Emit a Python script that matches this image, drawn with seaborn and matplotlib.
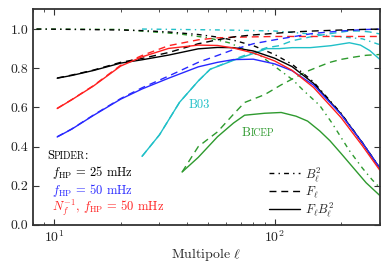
import numpy as np
import pandas as pd
import matplotlib
matplotlib.use("Agg")
import matplotlib.pyplot as plt
import seaborn as sns
from matplotlib.lines import Line2D
from matplotlib.offsetbox import TextArea, HPacker, AnnotationBbox

# ---------------- data ----------------
ell_spider = [10.3, 12, 15, 20, 25, 33, 45, 55, 65, 80, 100, 120, 150, 200, 250, 300]
spider25_F = [0.75, 0.765, 0.79, 0.83, 0.85, 0.88, 0.925, 0.945, 0.96, 0.97, 0.978, 0.985, 0.99, 0.995, 0.998, 1.0]
spider25_FB = [0.749, 0.763, 0.788, 0.826, 0.843, 0.867, 0.899, 0.906, 0.905, 0.888, 0.851, 0.808, 0.723, 0.567, 0.419, 0.29]
spider50_F = [0.45, 0.49, 0.56, 0.645, 0.70, 0.76, 0.83, 0.865, 0.895, 0.925, 0.945, 0.96, 0.978, 0.99, 0.997, 1.0]
spider50_FB = [0.449, 0.489, 0.558, 0.642, 0.694, 0.749, 0.807, 0.83, 0.844, 0.846, 0.822, 0.787, 0.714, 0.564, 0.419, 0.29]
spiderNf_F = [0.595, 0.64, 0.71, 0.815, 0.865, 0.915, 0.945, 0.955, 0.958, 0.96, 0.962, 0.962, 0.962, 0.962, 0.962, 0.962]
spiderNf_FB = [0.594, 0.639, 0.708, 0.811, 0.858, 0.901, 0.918, 0.916, 0.903, 0.878, 0.837, 0.789, 0.702, 0.548, 0.404, 0.279]

ell_spider_beam = [8.3, 10.3, 12, 15, 20, 25, 33, 45, 55, 65, 80, 100, 120, 150, 200, 250, 300]
spider_B2 = [1.0, 0.999, 0.998, 0.997, 0.995, 0.992, 0.985, 0.972, 0.959, 0.943, 0.915, 0.87, 0.82, 0.73, 0.57, 0.42, 0.29]

ell_b03 = [25, 30, 37, 45, 51, 60, 67, 80, 92, 105, 120, 145, 180, 218, 245, 270, 300]
b03_FB = [0.35, 0.46, 0.626, 0.735, 0.795, 0.825, 0.846, 0.875, 0.9, 0.9, 0.905, 0.905, 0.915, 0.93, 0.918, 0.89, 0.845]
b03_F = [0.35, 0.46, 0.626, 0.735, 0.795, 0.827, 0.85, 0.882, 0.905, 0.915, 0.94, 0.96, 0.977, 0.99, 0.99, 0.985, 0.975]
ell_b03_beam = [25, 60, 100, 145, 200, 250, 300]
b03_B2 = [1.0, 0.995, 0.99, 0.975, 0.96, 0.95, 0.92]

ell_bicep = [38, 45, 55, 65, 73, 90, 107, 125, 141, 160, 178, 200, 230, 260, 300]
bicep_FB = [0.27, 0.345, 0.45, 0.52, 0.56, 0.57, 0.574, 0.555, 0.53, 0.48, 0.43, 0.365, 0.285, 0.215, 0.15]
bicep_F = [0.27, 0.40, 0.475, 0.565, 0.625, 0.665, 0.715, 0.755, 0.785, 0.81, 0.83, 0.845, 0.857, 0.866, 0.87]
ell_bicep_beam = [8.3, 20, 37, 50, 62, 87, 121, 134, 160, 182, 218, 250, 277, 300]
bicep_B2 = [1.0, 0.998, 0.975, 0.955, 0.93, 0.86, 0.74, 0.69, 0.61, 0.52, 0.38, 0.29, 0.23, 0.19]

# ---------------- style ----------------
sns.set_style("ticks")
plt.rcParams["font.family"] = ["cmr10", "DejaVu Serif"]
plt.rcParams["mathtext.fontset"] = "cm"
plt.rcParams["axes.formatter.use_mathtext"] = True
plt.rcParams["axes.unicode_minus"] = False

BLACK = "#000000"
BLUE = "#2828ff"
RED = "#ff2020"
CYAN = "#20c0c8"
GREEN = "#2e9a2e"

DASH = (0, (5, 3.5))
DASHDOT = (0, (3.5, 3, 1, 3))
LW = 1.0

fig = plt.figure(figsize=(3.88, 2.70), dpi=100)
ax = fig.add_axes([0.085, 0.167, 0.894, 0.798])


def draw(x, y, color, ls, z=2):
    df = pd.DataFrame({"ell": x, "val": y})
    sns.lineplot(data=df, x="ell", y="val", ax=ax, color=color, linestyle=ls,
                 lw=LW, estimator=None, sort=False, zorder=z)


# beams (dash-dot)
draw(ell_bicep_beam, bicep_B2, GREEN, DASHDOT)
draw(ell_b03_beam, b03_B2, CYAN, DASHDOT)
draw(ell_spider_beam, spider_B2, BLACK, DASHDOT)
# transfer functions (dashed)
draw(ell_bicep, bicep_F, GREEN, DASH)
draw(ell_b03, b03_F, CYAN, DASH)
draw(ell_spider, spiderNf_F, RED, DASH)
draw(ell_spider, spider50_F, BLUE, DASH)
draw(ell_spider, spider25_F, BLACK, DASH)
# products (solid)
draw(ell_bicep, bicep_FB, GREEN, "-")
draw(ell_b03, b03_FB, CYAN, "-")
draw(ell_spider, spider25_FB, BLACK, "-")
draw(ell_spider, spider50_FB, BLUE, "-")
draw(ell_spider, spiderNf_FB, RED, "-")

ax.set_xscale("log")
ax.set_xlim(8, 300)
ax.set_ylim(0, 1.1)
ax.set_yticks([0.0, 0.2, 0.4, 0.6, 0.8, 1.0])
ax.set_yticklabels(["0.0", "0.2", "0.4", "0.6", "0.8", "1.0"])
ax.set_xlabel(r"Multipole $\ell$", fontsize=10, labelpad=1)
ax.set_ylabel("")

for s in ax.spines.values():
    s.set_color("#333333")
    s.set_linewidth(1.3)
ax.tick_params(which="both", direction="in", top=True, right=True, colors="#333333",
               labelcolor="#222222")
ax.tick_params(which="major", length=4, width=0.8, labelsize=10)
ax.tick_params(which="minor", length=2, width=0.6)
ax.tick_params(axis="x", pad=3)


def smallcaps(x, y, first, rest, tail, color, size, coords):
    parts = [TextArea(first, textprops=dict(color=color, size=size)),
             TextArea(rest, textprops=dict(color=color, size=size * 0.78))]
    if tail:
        parts.append(TextArea(tail, textprops=dict(color=color, size=size)))
    box = HPacker(children=parts, align="baseline", pad=0, sep=0)
    ab = AnnotationBbox(box, (x, y), xycoords=coords, frameon=False,
                        box_alignment=(0, 0.5), pad=0)
    ax.add_artist(ab)


# curve labels
ax.text(40.5, 0.615, "B03", color=CYAN, fontsize=9, va="center", ha="left")
smallcaps(71, 0.47, "B", "ICEP", "", GREEN, 9, "data")

# experiment labels
smallcaps(0.040, 0.318, "S", "PIDER", ":", BLACK, 9, "axes fraction")
ax.text(0.055, 0.243, r"$f_\mathrm{HP}$ = 25 mHz", color=BLACK, fontsize=9,
        va="center", ha="left", transform=ax.transAxes)
ax.text(0.055, 0.162, r"$f_\mathrm{HP}$ = 50 mHz", color=BLUE, fontsize=9,
        va="center", ha="left", transform=ax.transAxes)
ax.text(0.055, 0.078, r"$N_f^{-1}$, $f_\mathrm{HP}$ = 50 mHz", color=RED, fontsize=9,
        va="center", ha="left", transform=ax.transAxes)

handles = [Line2D([], [], color=BLACK, ls=DASHDOT, lw=LW),
           Line2D([], [], color=BLACK, ls=DASH, lw=LW),
           Line2D([], [], color=BLACK, ls="-", lw=LW)]
labels = [r"$B_\ell^2$", r"$F_\ell$", r"$F_\ell B_\ell^2$"]
ax.legend(handles, labels, loc="lower left", bbox_to_anchor=(0.655, -0.015),
          frameon=False, fontsize=9, handlelength=2.5, handletextpad=0.4,
          labelspacing=0.05, borderpad=0.2)

fig.savefig("out.png", dpi=100)
